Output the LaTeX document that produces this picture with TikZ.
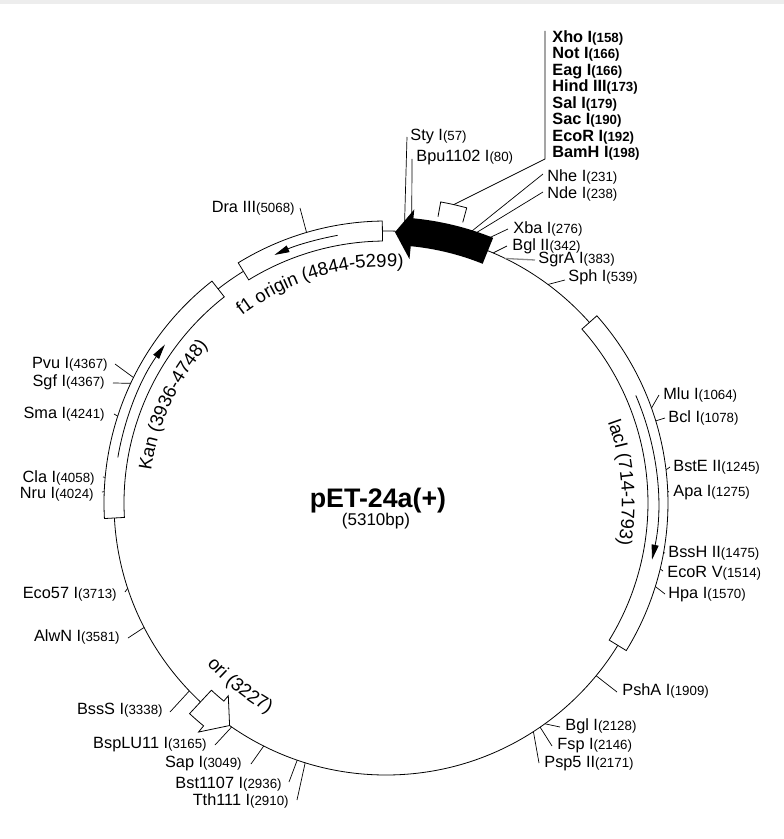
\documentclass[tikz,border=0pt]{standalone}
\usepackage{fontspec}
\setmainfont{Liberation Sans}
\usetikzlibrary{decorations.text,arrows.meta}
\newcommand\pa[1]{(90-(#1)*0.0677966)}
\newcommand\labfont{\fontsize{16.3}{18}\selectfont}
\newcommand\numfont{\fontsize{13.3}{15}\selectfont}
\newcommand\featfont{\fontsize{18.5}{20}\selectfont}
\newcommand\rsite[9]{%
  \coordinate (c#1) at ({\pa{#2}}:272);
  \coordinate (e#1) at ({#3-386},{503-#4});
  \draw[siteline] (c#1) -- (e#1);
  \node[lab,anchor=#5] (l#1) at ({#6-386},{497.2-#7}) {#8{\numfont(#9)}};
}
\begin{document}
\begin{tikzpicture}[x=1pt,y=1pt,line width=0.8pt,
  siteline/.style={line width=0.7pt},
  lab/.style={inner sep=0pt,font=\labfont},
  mcslab/.style={inner sep=0pt,font=\labfont\bfseries,anchor=base west},
  featbox/.style={draw,fill=white,line width=0.8pt},
  farrow/.style={line width=0.8pt,-{Triangle[length=15pt,width=7pt]}}]
\useasboundingbox (-386,-336) rectangle (398,503);
\fill[white] (-386,-336) rectangle (398,503);
\fill[black!7] (-386,499) rectangle (398,503);
% backbone
\draw (0,0) circle (272);
% restriction sites (right / top)
\rsite{1}{57}{407}{137}{base west}{410}{135}{Sty I}{57}
\rsite{2}{80}{412}{159}{base west}{416}{156}{Bpu1102 I}{80}
\rsite{3}{231}{543}{174}{base west}{547}{176}{Nhe I}{231}
\rsite{4}{238}{543}{192}{base west}{547}{193}{Nde I}{238}
\rsite{5}{276}{508}{229}{base west}{513}{228}{Xba I}{276}
\rsite{6}{342}{507}{246}{base west}{512}{245}{Bgl II}{342}
\rsite{8}{539}{565}{280}{base west}{568}{276}{Sph I}{539}
\rsite{9}{1064}{659}{395}{base west}{663}{394}{Mlu I}{1064}
\rsite{10}{1078}{665}{418}{base west}{668}{417}{Bcl I}{1078}
\rsite{11}{1245}{670}{467}{base west}{673}{466}{BstE II}{1245}
\rsite{12}{1275}{669}{492}{base west}{673}{491}{Apa I}{1275}
\rsite{13}{1475}{665}{553}{base west}{668}{552}{BssH II}{1475}
\rsite{14}{1514}{663}{571}{base west}{667}{572}{EcoR V}{1514}
\rsite{15}{1570}{665}{594}{base west}{668}{593}{Hpa I}{1570}
\rsite{16}{1909}{617}{692}{base west}{622}{690}{PshA I}{1909}
\rsite{17}{2128}{560}{727}{base west}{565}{725}{Bgl I}{2128}
\rsite{18}{2146}{552}{746}{base west}{557}{744}{Fsp I}{2146}
\rsite{19}{2171}{539}{763}{base west}{544}{762}{Psp5 II}{2171}
% restriction sites (left)
\rsite{20}{2910}{297}{800}{base east}{289}{800}{Tth111 I}{2910}
\rsite{21}{2936}{289}{782}{base east}{282}{783}{Bst1107 I}{2936}
\rsite{22}{3049}{251}{764}{base east}{242}{762}{Sap I}{3049}
\rsite{23}{3165}{215}{745}{base east}{207}{743}{BspLU11 I}{3165}
\rsite{24}{3338}{170}{712}{base east}{163}{709}{BssS I}{3338}
\rsite{25}{3581}{128}{638}{base east}{120}{636}{AlwN I}{3581}
\rsite{26}{3713}{125}{592}{base east}{117}{593}{Eco57 I}{3713}
\rsite{27}{4024}{102}{492}{base east}{94}{493}{Nru I}{4024}
\rsite{28}{4058}{103}{477}{base east}{95}{477}{Cla I}{4058}
\rsite{29}{4241}{114}{414}{base east}{105}{413}{Sma I}{4241}
\rsite{30}{4367}{113}{383}{base east}{105}{381}{Sgf I}{4367}
\rsite{31}{4367}{115}{364}{base east}{108}{363}{Pvu I}{4367}
\rsite{32}{5068}{300}{208}{base east}{295}{207}{Dra III}{5068}
% SgrA I (grey leader)
\coordinate (c7) at ({\pa{383}}:272);
\coordinate (e7) at ({535-386},{503-260});
\draw[line width=1.3pt,black!45] (c7) -- (e7);
\node[lab,anchor=base west] (l7) at ({538-386},{497.2-258}) {SgrA I{\numfont(383)}};
% feature boxes
\draw[featbox] ({\pa{4844}}:262) arc[start angle={\pa{4844}},end angle={\pa{5299}},radius=262] -- ({\pa{5299}}:282) arc[start angle={\pa{5299}},end angle={\pa{4844}},radius=282] -- cycle;
\draw[featbox] ({\pa{3936}}:262) arc[start angle={\pa{3936}},end angle={\pa{4748}},radius=262] -- ({\pa{4748}}:282) arc[start angle={\pa{4748}},end angle={\pa{3936}},radius=282] -- cycle;
\draw[featbox] ({\pa{714}}:262) arc[start angle={\pa{714}},end angle={\pa{1793}},radius=262] -- ({\pa{1793}}:282) arc[start angle={\pa{1793}},end angle={\pa{714}},radius=282] -- cycle;
% direction arrows in boxes
\draw[farrow] ({\pa{5159}}:272) arc[start angle={\pa{5159}},end angle={\pa{4953}},radius=272];
\draw[farrow] ({\pa{4125}}:272) arc[start angle={\pa{4125}},end angle={\pa{4508}},radius=272];
\draw[farrow] ({\pa{984}}:272) arc[start angle={\pa{984}},end angle={\pa{1505}},radius=272];
% black arrow
\fill[black] (68:286) arc[start angle=68,end angle=84.5,radius=286] -- (84.5:295) -- (88.1:271) -- (84.5:245) -- (84.5:258) arc[start angle=84.5,end angle=68,radius=258] -- cycle;
% ori marker
\draw[featbox] (-133:288) arc[start angle=-133,end angle=-129.3,radius=288] -- (-129.3:296) -- (-125.1:272) -- (-129.3:249) -- (-129.3:256) arc[start angle=-129.3,end angle=-133,radius=256] -- cycle;
% feature labels
\path[decorate,decoration={text along path,text align=center,text={|\featfont|f1 origin (4844-5299)}}] (-213.3:236) arc[start angle=-213.3,end angle=-293.3,radius=236];
\path[decorate,decoration={text along path,text align=center,text={|\featfont|Kan (3936-4748)}}] (-164.6:237) arc[start angle=-164.6,end angle=-244.6,radius=237];
\path[decorate,decoration={text along path,text align=center,text={|\featfont|lacI (714-1793)}}] (44.9:236) arc[start angle=44.9,end angle=-35.1,radius=236];
\path[decorate,decoration={text along path,text align=center,text={|\featfont|ori (3227)}}] (-158.6:241) arc[start angle=-158.6,end angle=-98.6,radius=241];
% MCS bracket and list
\draw (79.7:291) -- (79.7:306) arc[start angle=79.7,end angle=74.7,radius=306] -- (74.7:291);
\coordinate (bk) at (77.2:306);
\coordinate (mc1) at ({545-386},{503-159});
\coordinate (mc2) at ({545-386},{503-31});
\draw (bk) -- (mc1) -- (mc2);
\foreach \i/\n/\p in {0/Xho I/158,1/Not I/166,2/Eag I/166,3/Hind III/173,4/Sal I/179,5/Sac I/190,6/EcoR I/192,7/BamH I/198}{
  \node[mcslab] (mcs\i) at ({552-386},{503-42.3-16.5*\i}) {\n{\numfont(\p)}};
}
% title
\node[inner sep=0pt,font=\fontsize{26.8}{28}\selectfont\bfseries,anchor=base] (title) at ({378-386},{503-507}) {pET-24a(+)};
\node[inner sep=0pt,font=\fontsize{17}{18}\selectfont,anchor=base] (size) at ({376-386},{503-525}) {(5310bp)};
\end{tikzpicture}
\end{document}
